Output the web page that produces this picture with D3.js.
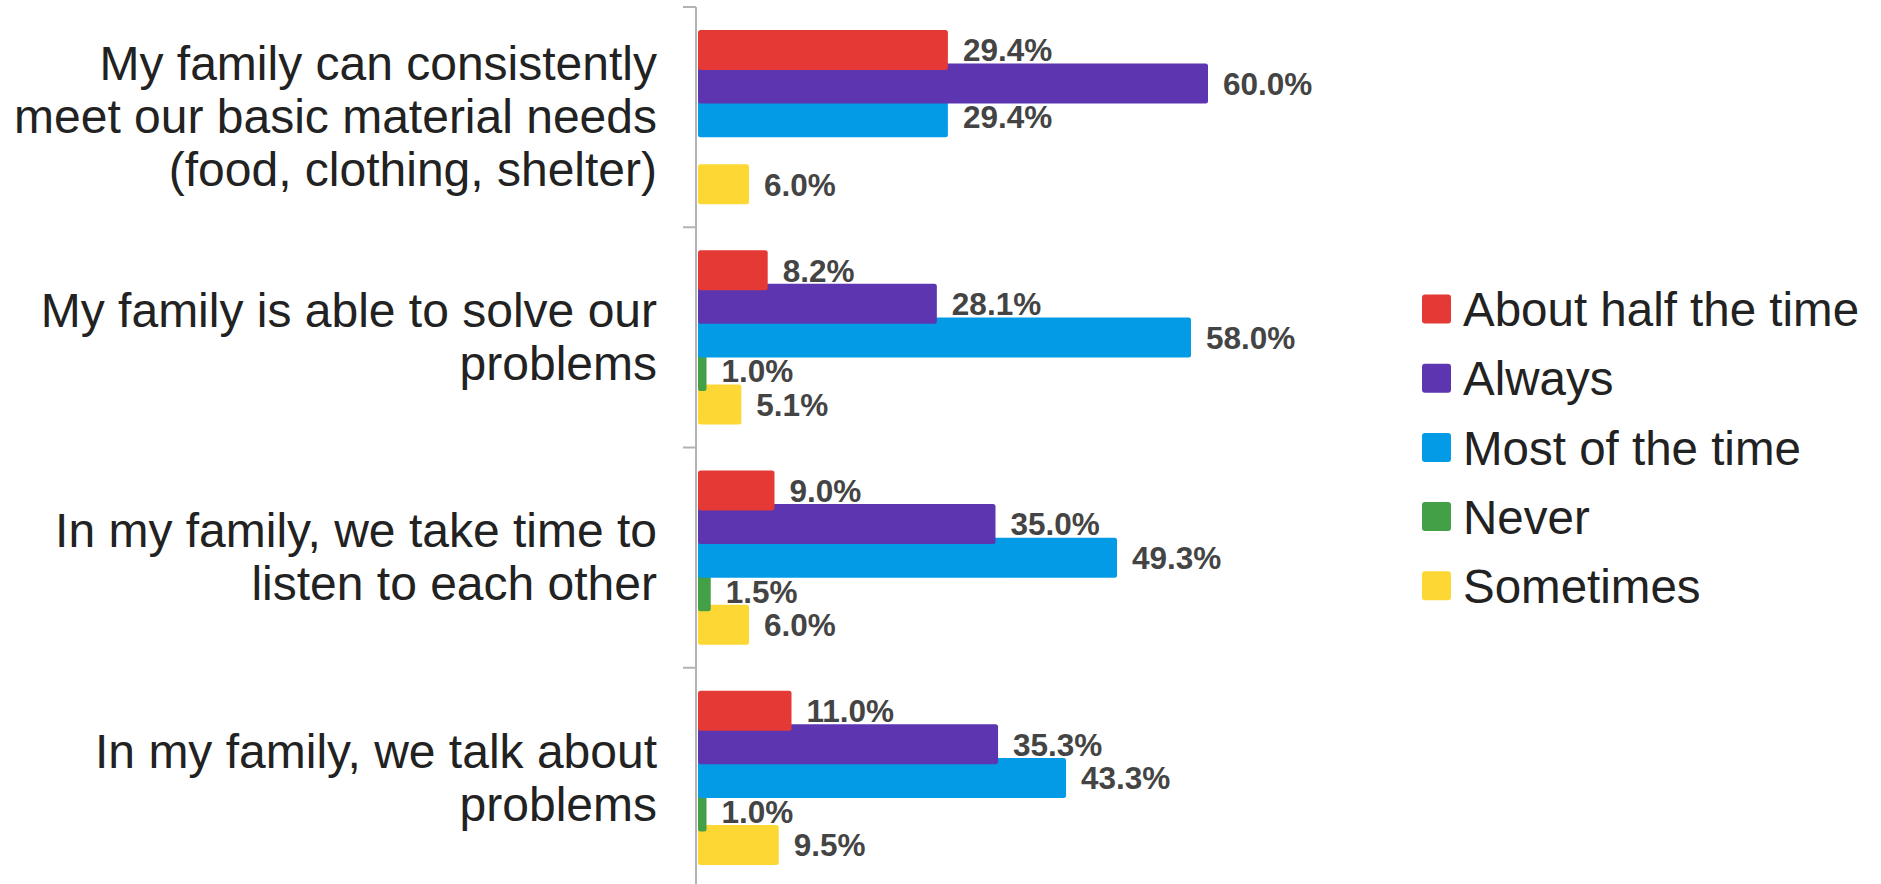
<!DOCTYPE html>
<html>
<head>
<meta charset="utf-8">
<script src="https://cdn.jsdelivr.net/npm/d3@7"></script>
<style>
  html, body { margin: 0; padding: 0; background: #fff; }
  svg { display: block; }
  text { font-family: "Liberation Sans", Arial, sans-serif; }
</style>
</head>
<body>
<svg id="chart" width="1881" height="884"></svg>
<script>
// ---- data ----
const categories = [
  "My family can consistently meet our basic material needs (food, clothing, shelter)",
  "My family is able to solve our problems",
  "In my family, we take time to listen to each other",
  "In my family, we talk about problems"
];
const categoryLines = [
  ["My family can consistently", "meet our basic material needs", "(food, clothing, shelter)"],
  ["My family is able to solve our", "problems"],
  ["In my family, we take time to", "listen to each other"],
  ["In my family, we talk about", "problems"]
];
const seriesNames = ["About half the time", "Always", "Most of the time", "Never", "Sometimes"];
const aboutHalf = [29.4, 8.2, 9.0, 11.0];
const always = [60.0, 28.1, 35.0, 35.3];
const mostOfTime = [29.4, 58.0, 49.3, 43.3];
const never = [null, 1.0, 1.5, 1.0];
const sometimes = [6.0, 5.1, 6.0, 9.5];
const seriesValues = [aboutHalf, always, mostOfTime, never, sometimes];
const seriesColors = ["#E53935", "#5E35B1", "#039BE5", "#43A047", "#FDD835"];

// ---- layout ----
const svg = d3.select("#chart");
const axisX = 696;
const plotTop = 7, plotBottom = 888;

const x = d3.scaleLinear().domain([0, 100]).range([698, 1548]);
const y = d3.scaleBand().domain(categories).range([plotTop, plotBottom]).paddingInner(0).paddingOuter(0);
const bw = y.bandwidth();
const inner = d3.scalePoint().domain(seriesNames).range([bw * 0.195, bw * 0.805]);
const barH = 40;

// flatten bars
const bars = [];
seriesNames.forEach((s, si) => {
  categories.forEach((c, ci) => {
    const v = seriesValues[si][ci];
    if (v !== null && v !== undefined) bars.push({ s, si, c, ci, v });
  });
});

// draw in reverse series order so earlier series sit on top
const barG = svg.append("g");
const drawOrder = bars.slice().sort((a, b) => b.si - a.si);
barG.selectAll("rect").data(drawOrder).join("rect")
  .attr("x", x(0))
  .attr("y", d => y(d.c) + inner(d.s) - barH / 2)
  .attr("width", d => x(d.v) - x(0))
  .attr("height", barH)
  .attr("rx", 2.5)
  .attr("fill", d => seriesColors[d.si]);

// axis line + ticks
const axisG = svg.append("g");
axisG.append("line")
  .attr("x1", axisX).attr("x2", axisX)
  .attr("y1", plotTop).attr("y2", plotBottom)
  .attr("stroke", "#b3b3b3").attr("stroke-width", 2);
const boundaries = categories.map(c => y(c)).concat([plotBottom]);
axisG.selectAll("line.tick").data(boundaries).join("line")
  .attr("class", "tick")
  .attr("x1", axisX - 13).attr("x2", axisX)
  .attr("y1", d => d).attr("y2", d => d)
  .attr("stroke", "#b3b3b3").attr("stroke-width", 2);

// value labels
const valFont = 31.5;
svg.append("g").selectAll("text").data(bars).join("text")
  .attr("x", d => x(d.v) + 15)
  .attr("y", d => y(d.c) + inner(d.s) + valFont * 0.36)
  .attr("font-size", valFont)
  .attr("font-weight", "bold")
  .attr("fill", "#444444")
  .text(d => d.v.toFixed(1) + "%");

// category labels
const catFont = 48;
const lineH = 53;
const catG = svg.append("g");
categories.forEach((c, ci) => {
  const lines = categoryLines[ci];
  const cy = y(c) + bw / 2 - 1;
  const t = catG.append("text")
    .attr("text-anchor", "end")
    .attr("font-size", catFont)
    .attr("fill", "#222222");
  lines.forEach((ln, li) => {
    t.append("tspan")
      .attr("x", 657)
      .attr("y", cy + (li - (lines.length - 1) / 2) * lineH + catFont * 0.36)
      .text(ln);
  });
});

// legend
const legFont = 47.5;
const legG = svg.append("g").attr("transform", "translate(1422, 309)");
const legStep = 69.2;
const leg = legG.selectAll("g").data(seriesNames).join("g")
  .attr("transform", (d, i) => `translate(0, ${i * legStep})`);
leg.append("rect")
  .attr("x", 0).attr("y", -14.5)
  .attr("width", 29).attr("height", 29)
  .attr("rx", 3)
  .attr("fill", (d, i) => seriesColors[i]);
leg.append("text")
  .attr("x", 41).attr("y", legFont * 0.36)
  .attr("font-size", legFont)
  .attr("fill", "#222222")
  .text(d => d);
</script>
</body>
</html>
